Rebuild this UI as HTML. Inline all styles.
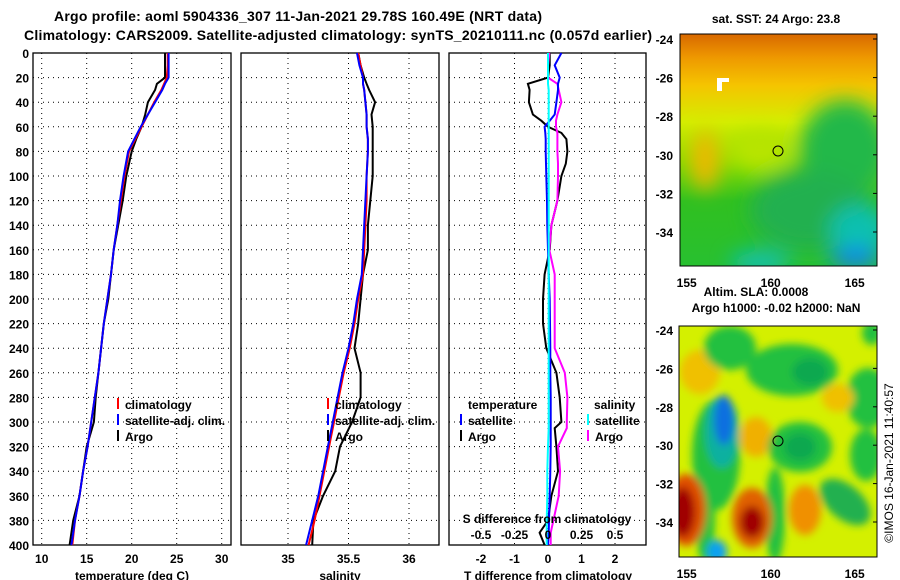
<!DOCTYPE html>
<html><head><meta charset="utf-8"><style>
html,body{margin:0;padding:0;background:#fff;}
svg{display:block;font-family:"Liberation Sans",sans-serif;font-weight:bold;}
</style></head><body>
<svg id="fig" width="900" height="580" viewBox="0 0 900 580" xmlns="http://www.w3.org/2000/svg">
<defs>
<filter id="b6" x="-50%" y="-50%" width="200%" height="200%"><feGaussianBlur stdDeviation="4"/></filter>
<filter id="b10" x="-50%" y="-50%" width="200%" height="200%"><feGaussianBlur stdDeviation="10"/></filter>
<linearGradient id="sstg" x1="0" y1="0" x2="0" y2="1">
<stop offset="0" stop-color="#d86800"/><stop offset="0.1" stop-color="#ee9800"/><stop offset="0.22" stop-color="#f5c400"/>
<stop offset="0.38" stop-color="#d4ee00"/><stop offset="0.55" stop-color="#88dc00"/><stop offset="0.72" stop-color="#30c020"/><stop offset="1" stop-color="#28c030"/>
</linearGradient>
<clipPath id="c1"><rect x="680" y="34" width="197" height="232"/></clipPath>
<clipPath id="c2"><rect x="679" y="326" width="198" height="231"/></clipPath>
</defs>
<text x="298" y="21" text-anchor="middle" font-size="14" textLength="488">Argo profile: aoml 5904336_307 11-Jan-2021 29.78S 160.49E (NRT data)</text>
<text x="338" y="40" text-anchor="middle" font-size="14" textLength="628">Climatology: CARS2009. Satellite-adjusted climatology: synTS_20210111.nc (0.057d earlier)</text>
<g id="p1"></g>
<g id="p2"></g>
<g id="p3"></g>

<g>
<text x="776" y="23" text-anchor="middle" font-size="12">sat. SST: 24 Argo: 23.8</text>
<g clip-path="url(#c1)">
<rect x="680" y="34" width="197" height="232" fill="url(#sstg)"/>
<g filter="url(#b10)">
<ellipse cx="705" cy="160" rx="14" ry="30" fill="#f0b800"/>
<ellipse cx="845" cy="150" rx="45" ry="50" fill="#20b848"/>
<ellipse cx="810" cy="210" rx="60" ry="40" fill="#20b050"/>
<ellipse cx="860" cy="230" rx="30" ry="25" fill="#10c0b0"/>
<ellipse cx="760" cy="262" rx="30" ry="10" fill="#10c0c0"/>
<ellipse cx="855" cy="258" rx="25" ry="10" fill="#1080f0"/>
<ellipse cx="760" cy="150" rx="30" ry="20" fill="#b8e400"/>
</g>
<rect x="717" y="78" width="5" height="13" fill="#fff"/><rect x="717" y="78" width="12" height="4" fill="#fff"/>
</g>
<rect x="680" y="34" width="197" height="232" fill="none" stroke="#000"/>
<circle cx="778" cy="151" r="5" fill="none" stroke="#000"/>
</g>

<g>
<text x="756" y="296" text-anchor="middle" font-size="12">Altim. SLA: 0.0008</text>
<text x="776" y="312" text-anchor="middle" font-size="12">Argo h1000: -0.02 h2000: NaN</text>
<g clip-path="url(#c2)">
<rect x="679" y="326" width="198" height="231" fill="#d4f000"/>
<g filter="url(#b6)">
<ellipse cx="700" cy="372" rx="20" ry="22" fill="#f0c000"/>
<ellipse cx="730" cy="348" rx="26" ry="22" fill="#20c040"/>
<ellipse cx="792" cy="370" rx="46" ry="26" fill="#20c040"/>
<ellipse cx="810" cy="372" rx="18" ry="14" fill="#10a850"/>
<ellipse cx="868" cy="398" rx="22" ry="30" fill="#20c040"/>
<ellipse cx="872" cy="333" rx="10" ry="12" fill="#20c040"/>
<ellipse cx="838" cy="398" rx="16" ry="14" fill="#f0c000"/>
<ellipse cx="716" cy="455" rx="24" ry="55" fill="#20c040"/>
<ellipse cx="722" cy="432" rx="17" ry="36" fill="#10b0a0"/>
<ellipse cx="724" cy="420" rx="10" ry="25" fill="#1070e0"/>
<ellipse cx="756" cy="437" rx="16" ry="20" fill="#f0b000"/>
<ellipse cx="800" cy="447" rx="32" ry="25" fill="#20c040"/>
<ellipse cx="800" cy="447" rx="16" ry="14" fill="#10a850"/>
<ellipse cx="866" cy="455" rx="16" ry="26" fill="#20c040"/>
<ellipse cx="845" cy="502" rx="30" ry="17" fill="#20b050" transform="rotate(40 845 502)"/>
<ellipse cx="775" cy="515" rx="10" ry="48" fill="#20c040"/>
<ellipse cx="705" cy="515" rx="10" ry="48" fill="#20c040"/>
<ellipse cx="686" cy="510" rx="20" ry="36" fill="#e05000"/>
<ellipse cx="683" cy="512" rx="12" ry="25" fill="#a00000"/>
<ellipse cx="752" cy="518" rx="20" ry="30" fill="#e06000"/>
<ellipse cx="752" cy="522" rx="12" ry="16" fill="#a00000"/>
<ellipse cx="805" cy="510" rx="16" ry="25" fill="#f09000"/>
<ellipse cx="717" cy="552" rx="10" ry="12" fill="#10a0f0"/>
</g>
</g>
<rect x="679" y="326" width="198" height="231" fill="none" stroke="#000"/>
<circle cx="778" cy="441" r="5" fill="none" stroke="#000"/>
</g>
<text transform="translate(893,463) rotate(-90)" text-anchor="middle" font-size="12" font-weight="normal">©IMOS 16-Jan-2021 11:40:57</text>
</svg>
<script>
const depths = [0,10,20,25,30,40,50,60,70,80,100,120,140,160,180,200,220,240,260,280,300,320,340,360,380,400];
const tempArgo = [23.7,23.7,23.7,22.8,22.6,21.8,21.5,21.1,20.5,20.0,19.4,19.0,18.5,18.0,17.7,17.4,16.9,16.6,16.3,16.0,15.8,15.0,14.6,14.2,13.5,13.1];
const tempClim = [24.0,24.0,23.9,23.6,23.3,22.5,21.8,21.1,20.4,19.7,19.2,18.8,18.4,18.0,17.7,17.3,16.9,16.6,16.3,15.9,15.5,15.1,14.6,14.2,13.7,13.4];
const tempSat = [24.1,24.1,24.1,23.7,23.4,22.6,21.8,21.0,20.3,19.6,19.1,18.7,18.4,18.0,17.7,17.3,16.9,16.6,16.3,15.9,15.5,15.1,14.6,14.2,13.7,13.3];
const salArgo = [35.58,35.60,35.63,35.65,35.67,35.72,35.69,35.70,35.70,35.70,35.70,35.68,35.66,35.66,35.62,35.60,35.58,35.55,35.60,35.60,35.53,35.43,35.39,35.29,35.21,35.20];
const salClim = [35.58,35.60,35.62,35.62,35.63,35.64,35.65,35.65,35.66,35.66,35.65,35.65,35.64,35.63,35.62,35.58,35.55,35.51,35.46,35.42,35.38,35.34,35.30,35.26,35.22,35.17];
const salSat = [35.57,35.59,35.62,35.62,35.63,35.64,35.65,35.65,35.66,35.66,35.65,35.64,35.63,35.62,35.61,35.57,35.54,35.50,35.45,35.41,35.37,35.33,35.29,35.25,35.20,35.15];
const diffDepths = [0,10,20,25,30,40,50,55,60,65,70,80,90,100,120,140,160,180,200,220,240,260,280,300,305,320,340,360,380,390,400];
const dTArgo = [0.05,0.05,0,-0.6,-0.55,-0.57,-0.45,-0.2,0,0.4,0.55,0.58,0.53,0.4,0.28,0.1,0.05,-0.1,-0.15,-0.15,-0.05,0.25,0.35,0.4,0.2,0.25,0.3,0.1,0,-0.25,-0.1];
const dTSat = [0.4,0.2,0.35,0.3,0.3,0.25,0.2,0.05,-0.1,-0.08,-0.07,-0.07,-0.06,-0.05,-0.03,-0.02,0,0.02,0.05,0.06,0.07,0.07,0.08,0.08,0.08,0.08,0.07,0.05,0.03,0.02,0];
const dSArgo = [0.01,0,0,0.07,0.08,0.1,0.07,0.06,0.06,0.07,0.07,0.07,0.075,0.075,0.07,0.025,0.01,0.05,0.05,0.05,0.05,0.125,0.145,0.14,0.14,0.075,0.09,0.08,0.04,0.02,0.02];
const dSSat = [0,0,0,0,0.005,0.005,0.005,0.005,0.005,0.005,0.005,0.005,0.005,0.005,0.005,0.005,0.005,0.005,0.005,0.005,0.005,0.005,0.005,0.005,0.005,0,-0.005,-0.005,-0.01,-0.01,-0.01];
const depthTicks = [0,20,40,60,80,100,120,140,160,180,200,220,240,260,280,300,320,340,360,380,400];
const tempTicks = [10,15,20,25,30];
const salTicks = [35,35.5,36];
const salTickLabels = ["35","35.5","36"];
const dTTicks = [-2,-1,0,1,2];
const dSTicks = [-0.5,-0.25,0,0.25,0.5];
const latTicks = [-24,-26,-28,-30,-32,-34];
const lonTicks = [155,160,165];

const NS='http://www.w3.org/2000/svg';
const Y0=53, Y1=545;
function yD(d){return Y0+(d/400)*(Y1-Y0);}
function xT(t){return 41.7+(t-10)*9;}
function xS(s){return 288+(s-35)*121;}
function xDT(t){return 548+t*33.5;}
function xDS(s){return 548+s*134;}
function mk(tag,attrs,parent){const e=document.createElementNS(NS,tag);for(const k in attrs)e.setAttribute(k,attrs[k]);parent.appendChild(e);return e;}

function panel(g,x0,x1,xs,xf,showY,name){
  const r=mk('rect',{x:x0,y:Y0,width:x1-x0,height:Y1-Y0,fill:'#fff',stroke:'#000','stroke-width':1.3},g);
  
  
  depthTicks.forEach(d=>{
    const l=mk('line',{x1:x0,x2:x1,y1:yD(d),y2:yD(d),stroke:'#000','stroke-dasharray':'1 4'},g);
    
    
    if(showY){
      const t=mk('text',{x:29,y:yD(d)+5,'text-anchor':'end','font-size':12},g);
      t.textContent=d;
      
      
    }
  });
  xs.forEach(v=>{
    const l=mk('line',{x1:xf(v),x2:xf(v),y1:Y0,y2:Y1,stroke:'#000','stroke-dasharray':'1 4'},g);
    
    
  });
}
function series(g,ys,vals,xf,color,name){
  const pts=vals.map((v,i)=>xf(v).toFixed(1)+','+yD(ys[i]).toFixed(1)).join(' ');
  const p=mk('polyline',{points:pts,fill:'none',stroke:color,'stroke-width':2},g);
  
  
}
function txt(g,x,y,s,anchor,size,name){
  const t=mk('text',{x:x,y:y,'text-anchor':anchor,'font-size':size},g);
  t.textContent=s;
  
  
}
function legend(g,x,y,color,label){
  const l=mk('line',{x1:x,x2:x,y1:y-11,y2:y,stroke:color,'stroke-width':2},g);
  
  
  txt(g,x+7,y,label,'start',12,'legend-entry');
}

const p1=document.getElementById('p1');
panel(p1,33,231,tempTicks,xT,true,'temperature-panel');
series(p1,depths,tempArgo,xT,'#000','temp-argo-line');
series(p1,depths,tempClim,xT,'#f00','temp-climatology-line');
series(p1,depths,tempSat,xT,'#00f','temp-satellite-line');
tempTicks.forEach(v=>txt(p1,xT(v),563,String(v),'middle',12,'temperature-tick-label'));
txt(p1,132,580,'temperature (deg C)','middle',12,'x-axis-title-temperature');
legend(p1,118,409,'#f00','climatology');
legend(p1,118,425,'#00f','satellite-adj. clim.');
legend(p1,118,441,'#000','Argo');

const p2=document.getElementById('p2');
panel(p2,241,439,salTicks,xS,false,'salinity-panel');
series(p2,depths,salArgo,xS,'#000','sal-argo-line');
series(p2,depths,salClim,xS,'#f00','sal-climatology-line');
series(p2,depths,salSat,xS,'#00f','sal-satellite-line');
salTicks.forEach((v,i)=>txt(p2,xS(v),563,salTickLabels[i],'middle',12,'salinity-tick-label'));
txt(p2,340,580,'salinity','middle',12,'x-axis-title-salinity');
legend(p2,328,409,'#f00','climatology');
legend(p2,328,425,'#00f','satellite-adj. clim.');
legend(p2,328,441,'#000','Argo');

const p3=document.getElementById('p3');
panel(p3,449,646,dTTicks,xDT,false,'difference-panel');
series(p3,diffDepths,dTArgo,xDT,'#000','tdiff-argo-line');
series(p3,diffDepths,dSArgo,xDS,'#f0f','sdiff-argo-line');
series(p3,diffDepths,dTSat,xDT,'#00f','tdiff-satellite-line');
series(p3,diffDepths,dSSat,xDS,'#0ff','sdiff-satellite-line');
dTTicks.forEach(v=>txt(p3,xDT(v),563,String(v),'middle',12,'tdiff-tick-label'));
dSTicks.forEach(v=>txt(p3,xDS(v),539,String(v),'middle',12,'sdiff-tick-label'));
txt(p3,547,523,'S difference from climatology','middle',12,'sdiff-axis-title');
txt(p3,548,580,'T difference from climatology','middle',12,'x-axis-title-tdiff');
txt(p3,468,409,'temperature','start',12,'legend-title-temperature');
txt(p3,594,409,'salinity','start',12,'legend-title-salinity');
legend(p3,461,425,'#00f','satellite');
legend(p3,461,441,'#000','Argo');
legend(p3,588,425,'#0ff','satellite');
legend(p3,588,441,'#f0f','Argo');

const svg=document.getElementById('fig');
function mapAxes(top,bottom,lat0y,latStep,lonLabelY){
  latTicks.forEach((v,i)=>{
    const y=lat0y+i*latStep;
    txt(svg,673,y+5,String(v),'end',12,'latitude-tick-label');
    const a=mk('line',{x1:877,x2:873,y1:y,y2:y,stroke:'#000'},svg);
    
    
  });
  lonTicks.forEach(v=>{
    const x=686.7+(v-155)*16.8;
    txt(svg,x,lonLabelY,String(v),'middle',12,'longitude-tick-label');
  });
}
mapAxes(34,266,39,38.6,287);
mapAxes(326,557,330,38.4,578);
</script>
</body></html>
